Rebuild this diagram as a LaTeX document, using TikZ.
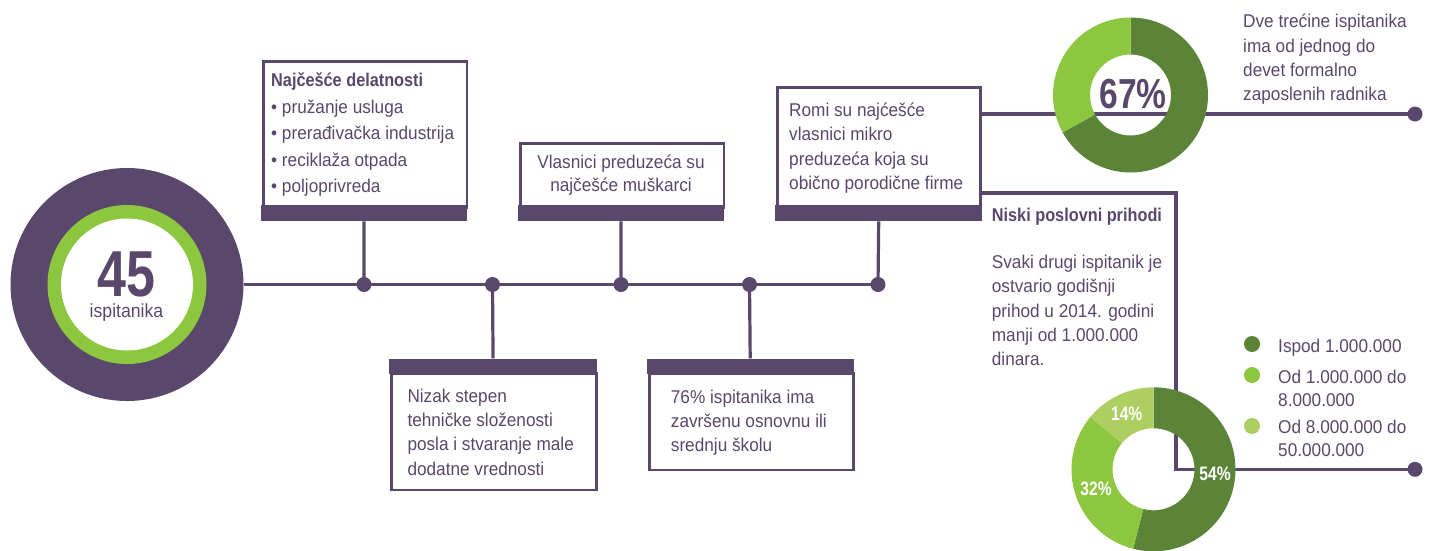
\documentclass[tikz,border=0pt]{standalone}
\usepackage{fontspec}
\setmainfont{Liberation Sans}[FakeStretch=0.93]
\newfontfamily\boldc{Liberation Sans}[FakeStretch=0.88]
\newfontfamily\boldn{Liberation Sans}[FakeStretch=0.8]
\usetikzlibrary{calc}
\definecolor{pur}{RGB}{90,72,108}
\definecolor{dgreen}{RGB}{91,132,57}
\definecolor{mgreen}{RGB}{141,198,63}
\definecolor{lgreen}{RGB}{173,207,98}
\tikzset{
  conn/.style={draw=pur, line width=3.2pt},
  dotm/.style={circle, fill=pur, inner sep=0pt, minimum size=15pt},
  legdot/.style={circle, inner sep=0pt, minimum size=16pt},
  bx/.style={draw=pur, line width=2.7pt, fill=white, inner sep=0pt, anchor=north west},
  barm/.style={fill=pur, inner sep=0pt, anchor=north west},
  txt/.style={text=pur, inner sep=0pt, anchor=base west, align=left, font=\fontsize{18.5}{24.2}\selectfont},
  txtc/.style={text=pur, inner sep=0pt, anchor=base, align=center, font=\fontsize{18.5}{23.4}\selectfont},
  pct/.style={text=white, inner sep=0pt, font=\boldn\bfseries\fontsize{19.5}{20}\selectfont},
}
\newcommand{\ringsector}[6]{% color, center, start, end, R, r
  \fill[#1] ($(#2)+(#3:#5)$) arc[start angle=#3, end angle=#4, radius=#5]
    -- ($(#2)+(#4:#6)$) arc[start angle=#4, end angle=#3, radius=#6] -- cycle;}
\begin{document}
\begin{tikzpicture}[x=1pt,y=-1pt]
\useasboundingbox (0,0) rectangle (1429,550);

% left circle
\node[circle, fill=pur, minimum size=233pt, inner sep=0pt] (big) at (127,284.5) {};
\node[circle, fill=mgreen, minimum size=159pt, inner sep=0pt] (ring) at (big.center) {};
\node[circle, fill=white, minimum size=132pt, inner sep=0pt] (hub) at (big.center) {};
\node[text=pur, inner sep=0pt, anchor=base, font=\boldn\bfseries\fontsize{65}{66}\selectfont] (n45) at (126.5,296) {45};
\node[text=pur, inner sep=0pt, anchor=base, font=\fontsize{19}{20}\selectfont] (nisp) at (126.5,317.5) {ispitanika};

% dots on main line
\node[dotm] (d1) at (364,284.5) {};
\node[dotm] (d2) at (492.5,284.5) {};
\node[dotm] (d3) at (621,284.5) {};
\node[dotm] (d4) at (749.5,284.5) {};
\node[dotm] (d5) at (878,284.5) {};
\draw[conn] (big.east) -- (d5.center);

% top box 1
\node[bx, minimum width=203.6pt, minimum height=145.7pt] (b1) at (262.05,60.35) {};
\node[barm, minimum width=206.3pt, minimum height=16pt] (b1bar) at (260.7,205) {};
\draw[conn] (b1bar.south) -- (d1.center);
\node[txt, font=\fontsize{18.5}{26.5}\selectfont] (t1) at (271,192.7)
  {{\boldc\bfseries Najčešće delatnosti}\\• pružanje usluga\\• prerađivačka industrija\\• reciklaža otpada\\• poljoprivreda};

% top box 2
\node[bx, minimum width=203.6pt, minimum height=64pt] (b2) at (519.05,142.05) {};
\node[barm, minimum width=206.3pt, minimum height=16pt] (b2bar) at (517.7,205) {};
\draw[conn] (b2bar.south) -- (d3.center);
\node[txtc] (t2) at (621,191.7) {Vlasnici preduzeća su\\najčešće muškarci};

% top box 3
\coordinate (n1) at (1176,193);
\coordinate (n2) at (1176,469.3);
\node[dotm] (e1) at (1415,114) {};
\node[dotm] (e2) at (1415,469.3) {};
\node[bx, minimum width=203pt, minimum height=120pt] (b3) at (776.35,86.05) {};
\draw[conn] (b3.east |- e1) -- (e1.center);
\draw[conn] (b3.east |- n1) -- (n1) -- (n2) -- (e2.center);
\node[bx, minimum width=203pt, minimum height=120pt] at (776.35,86.05) {};
\node[barm, minimum width=207pt, minimum height=16pt] (b3bar) at (775,205) {};
\draw[conn] (b3bar.south) -- (d5.center);
\node[txt] (t3) at (789,189.3) {Romi su najćešće\\vlasnici mikro\\preduzeća koja su\\obično porodične firme};

% bottom box 4
\node[barm, minimum width=207.7pt, minimum height=15pt] (b4bar) at (389,358.3) {};
\node[bx, minimum width=205pt, minimum height=116.6pt] (b4) at (390.35,372) {};
\draw[conn] (d2.center) -- (b4bar.north);
\node[txt] (t4) at (407.3,475) {Nizak stepen\\tehničke složenosti\\posla i stvaranje male\\dodatne vrednosti};

% bottom box 5
\node[barm, minimum width=206.6pt, minimum height=15pt] (b5bar) at (646.7,358.3) {};
\node[bx, minimum width=203.9pt, minimum height=96.6pt] (b5) at (648.05,372) {};
\draw[conn] (d4.center) -- (b5bar.north);
\node[txt] (t5) at (670.7,451.7) {76\% ispitanika ima\\završenu osnovnu ili\\srednju školu};

% top donut
\coordinate (c1) at (1130.5,95);
\ringsector{dgreen}{c1}{90}{-151.2}{77.5pt}{40.5pt}
\ringsector{mgreen}{c1}{-151.2}{-270}{77.5pt}{40.5pt}
\node[text=pur, inner sep=0pt, anchor=base, font=\boldn\bfseries\fontsize{42}{44}\selectfont] (p67) at (1133,108.3) {67\%};
\node[txt] (t6) at (1243,100.5) {Dve trećine ispitanika\\ima od jednog do\\devet formalno\\zaposlenih radnika};

% Niski text
\node[txt] (t7) at (991.7,221.7) {{\boldc\bfseries Niski poslovni prihodi}};
\node[txt] (t8) at (991.7,365.5) {Svaki drugi ispitanik je\\ostvario godišnji\\prihod u 2014. godini\\manji od 1.000.000\\dinara.};

% bottom donut
\coordinate (c2) at (1153.5,469.3);
\ringsector{dgreen}{c2}{90}{-104.4}{82pt}{41pt}
\ringsector{mgreen}{c2}{-104.4}{-219.6}{82pt}{41pt}
\ringsector{lgreen}{c2}{-219.6}{-270}{82pt}{41pt}
\node[pct] (p54) at (1215,473.3) {54\%};
\node[pct] (p32) at (1096,488.3) {32\%};
\node[pct] (p14) at (1126.7,413.3) {14\%};

% legend
\node[legdot, fill=dgreen] (l1) at (1252,344) {};
\node[legdot, fill=mgreen] (l2) at (1252,375) {};
\node[legdot, fill=lgreen] (l3) at (1252,426) {};
\node[txt, font=\fontsize{18.5}{23.5}\selectfont] (lt1) at (1278,352) {Ispod 1.000.000};
\node[txt, font=\fontsize{18.5}{23.5}\selectfont] (lt2) at (1278,406.5) {Od 1.000.000 do\\8.000.000};
\node[txt, font=\fontsize{18.5}{23.5}\selectfont] (lt3) at (1278,456.5) {Od 8.000.000 do\\50.000.000};
\end{tikzpicture}
\end{document}
